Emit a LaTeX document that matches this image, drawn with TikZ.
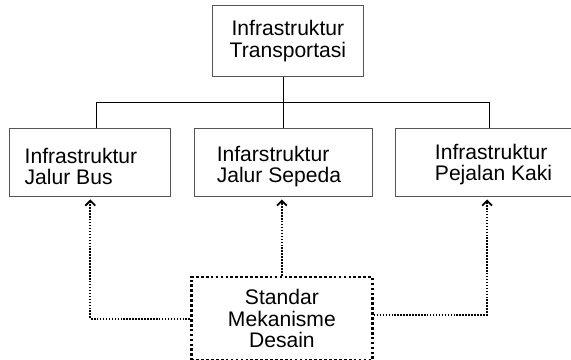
\documentclass[tikz,border=0pt]{standalone}
\usepackage{fontspec}
\setmainfont{Liberation Sans}
\usetikzlibrary{positioning,arrows.meta}
\definecolor{boxline}{HTML}{555555}

\begin{document}
\begin{tikzpicture}[
  font=\fontsize{15}{15.5}\selectfont,
  box/.style={draw=boxline, line width=0.7pt, minimum height=1.71cm, inner sep=0pt},
  txt/.style={align=left, inner sep=0pt, anchor=west},
  std/.style={draw, line width=2pt, dash pattern=on 1.9pt off 1.6pt, minimum width=4.525cm, minimum height=2.08cm, align=center},
  tree/.style={line width=0.7pt},
  dep/.style={line width=1.3pt, dash pattern=on 1.1pt off 1pt, -{Straight Barb[length=3.5pt,width=7pt]}, shorten >=1.6pt}
]
\useasboundingbox (0,0) rectangle (14.275,-9);
\node[box, minimum width=4.02cm] (bus) at (2.2575,-4.0625) {};
\node[box, minimum width=4.46cm, right=0.565cm of bus] (sep) {};
\node[box, minimum width=4.42cm, right=0.5575cm of sep] (ped) {};
\node[box, minimum width=3.775cm, minimum height=1.775cm, align=center, above=1.265cm of sep, xshift=0.11cm] (top) {Infrastruktur\\Transportasi};
\node[std, below=1.96cm of sep, xshift=-0.04cm] (mek) {Standar\\Mekanisme\\Desain};
\node[txt] (bus-t) at ([xshift=0.375cm,yshift=-0.1cm]bus.west) {Infrastruktur\\Jalur Bus};
\node[txt] (sep-t) at ([xshift=0.5675cm,yshift=-0.1cm]sep.west) {Infarstruktur\\Jalur Sepeda};
\node[txt] (ped-t) at ([xshift=0.98cm,yshift=-0.05cm]ped.west) {Infrastruktur\\Pejalan Kaki};
\path (top.south) -- (sep.north) coordinate[pos=0.5] (split);
\draw[tree] (top.south -| sep.north) -- (sep.north);
\draw[tree] ([xshift=0.16cm]bus.north) |- (split) -| ([xshift=0.125cm]ped.north);
\draw[dep] (mek.west) -| (bus.south);
\draw[dep] (mek.north) -- (mek.north |- sep.south);
\draw[dep] ([yshift=0.1cm]mek.east) -| ([xshift=0.07cm]ped.south);
\end{tikzpicture}
\end{document}
